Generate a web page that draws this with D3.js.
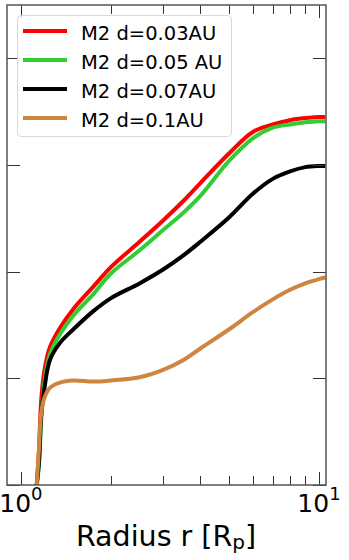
<!DOCTYPE html>
<html><head><meta charset="utf-8">
<script src="https://cdn.jsdelivr.net/npm/d3@7"></script>
<style>body{margin:0;background:#fff}svg{display:block}text{font-family:"DejaVu Sans",sans-serif}</style>
</head><body>
<script>
const radius = [1.13, 1.15, 1.17, 1.2, 1.25, 1.35, 1.5, 1.75, 2, 2.5, 3, 3.5, 4, 5, 6, 7, 8, 9, 10, 10.5];
const red = [0, 0.33, 0.80, 1.08, 1.29, 1.47, 1.65, 1.86, 2.04, 2.28, 2.48, 2.66, 2.83, 3.11, 3.31, 3.38, 3.42, 3.44, 3.45, 3.45];
const green = [0, 0.19, 0.61, 0.98, 1.22, 1.41, 1.59, 1.79, 1.98, 2.20, 2.39, 2.55, 2.71, 3.04, 3.25, 3.35, 3.38, 3.40, 3.41, 3.41];
const black = [0, 0.23, 0.66, 0.91, 1.17, 1.33, 1.46, 1.63, 1.75, 1.89, 2.02, 2.15, 2.28, 2.51, 2.73, 2.87, 2.94, 2.98, 2.99, 2.99];
const orange = [0, 0.35, 0.68, 0.82, 0.91, 0.96, 0.98, 0.97, 0.98, 1.01, 1.08, 1.17, 1.28, 1.46, 1.62, 1.74, 1.83, 1.89, 1.93, 1.945];
const labels = ["M2 d=0.03AU", "M2 d=0.05 AU", "M2 d=0.07AU", "M2 d=0.1AU"];
const colors = ["#ff0000", "#32cd32", "#000000", "#cd853f"];
const yTicks = [0, 1, 2, 3, 4];
const xMajor = [1, 10];
const xMinor = [2, 3, 4, 5, 6, 7, 8, 9];

const W = 349, H = 560;
const L = 7, R = 326, T = 5, B = 485;
const svg = d3.select("body").append("svg").attr("width", W).attr("height", H);
const x = d3.scaleLog().domain([0.898, 10.56]).range([L, R]);
const y = d3.scaleLinear().domain([0, 4.5]).range([B, T]);

svg.append("clipPath").attr("id", "clip").append("rect")
  .attr("x", L).attr("y", T).attr("width", R - L).attr("height", B - T);

const series = [red, green, black, orange];
const line = d3.line().x(d => x(d[0])).y(d => y(d[1])).curve(d3.curveCatmullRom.alpha(0.5));
const g = svg.append("g").attr("clip-path", "url(#clip)");
series.forEach((s, i) => {
  g.append("path").datum(radius.map((r, j) => [r, s[j]]))
    .attr("d", line).attr("fill", "none").attr("stroke", colors[i])
    .attr("stroke-width", 4).attr("stroke-linejoin", "round").attr("stroke-linecap", "butt");
});

// ticks (inside, mirrored)
const tk = svg.append("g").attr("stroke", "#333").attr("stroke-width", 1);
xMajor.forEach(v => {
  const px = Math.round(x(v)) + 0.5;
  tk.append("line").attr("x1", px).attr("x2", px).attr("y1", B).attr("y2", B - 13);
  tk.append("line").attr("x1", px).attr("x2", px).attr("y1", T).attr("y2", T + 13);
});
xMinor.forEach(v => {
  const px = Math.round(x(v)) + 0.5;
  tk.append("line").attr("x1", px).attr("x2", px).attr("y1", B).attr("y2", B - 9);
  tk.append("line").attr("x1", px).attr("x2", px).attr("y1", T).attr("y2", T + 9);
});
yTicks.forEach(v => {
  const py = Math.round(y(v)) + 0.5;
  tk.append("line").attr("x1", L).attr("x2", L + 13).attr("y1", py).attr("y2", py);
  tk.append("line").attr("x1", R).attr("x2", R - 13).attr("y1", py).attr("y2", py);
});

// frame
svg.append("rect").attr("x", L).attr("y", T).attr("width", R - L).attr("height", B - T)
  .attr("fill", "none").attr("stroke", "#555").attr("stroke-width", 1.5);

// x tick labels
xMajor.forEach(v => {
  const t = svg.append("text").attr("x", x(v)).attr("y", 512).attr("text-anchor", "middle")
    .attr("font-size", 25).attr("fill", "#000");
  t.append("tspan").text("10");
  t.append("tspan").attr("font-size", 18).attr("dy", -12).text(String(Math.round(Math.log10(v))));
});

// x label
const xl = svg.append("text").attr("x", 166).attr("y", 546).attr("text-anchor", "middle")
  .attr("font-size", 28.5).attr("fill", "#000");
xl.append("tspan").text("Radius r [R");
xl.append("tspan").attr("font-size", 20).attr("dy", 3).text("p");
xl.append("tspan").attr("dy", -3).text("]");

// legend
const lg = svg.append("g");
lg.append("rect").attr("x", 17.5).attr("y", 15.5).attr("width", 214).attr("height", 121)
  .attr("rx", 4).attr("fill", "#fff").attr("fill-opacity", 0.8).attr("stroke", "#d9d9d9").attr("stroke-width", 1);
labels.forEach((lab, i) => {
  const cy = 31 + i * 29;
  lg.append("line").attr("x1", 23).attr("x2", 67).attr("y1", cy).attr("y2", cy)
    .attr("stroke", colors[i]).attr("stroke-width", 4);
  lg.append("text").attr("x", 81).attr("y", cy + 8.5).attr("font-size", 19.5).attr("fill", "#000").text(lab);
});
</script>
</body></html>
